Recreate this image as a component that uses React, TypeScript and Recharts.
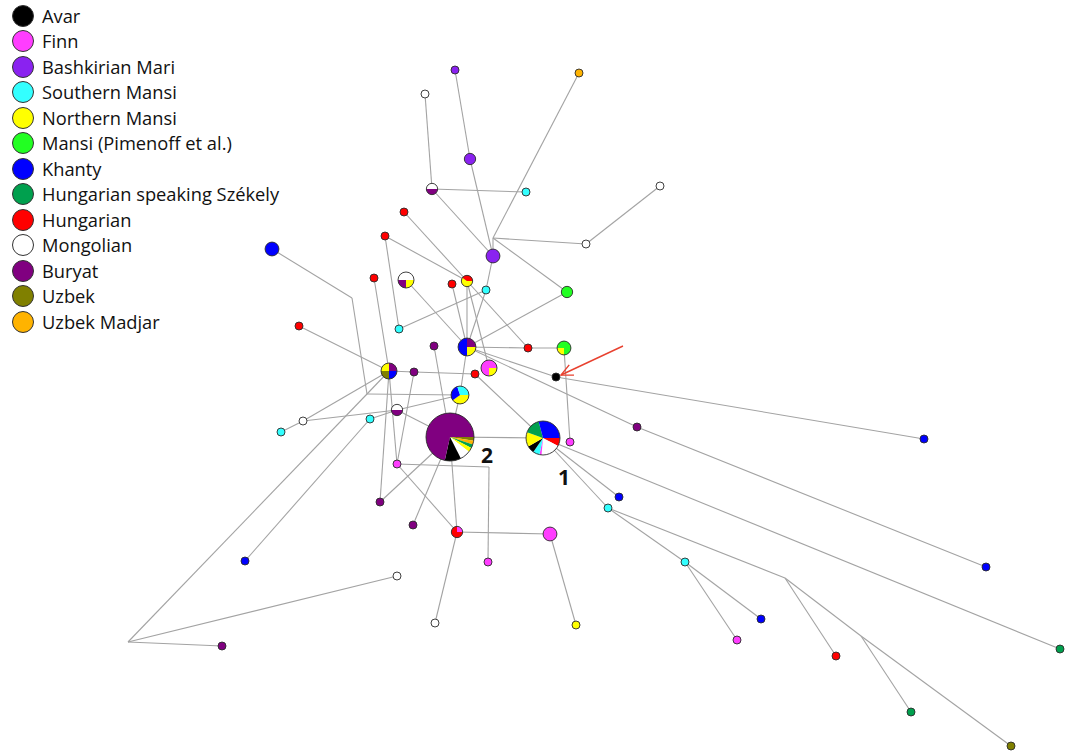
import { Scatter, ScatterChart, Sector, XAxis, YAxis } from "recharts"

const W = 1073
const H = 752

// populations, in legend order
const popCodes = ["AVA", "FIN", "BMA", "SMA", "NMA", "MAN", "KHA", "SZE", "HUN", "MON", "BUR", "UZB", "UZM"]
const popLabels = [
  "Avar",
  "Finn",
  "Bashkirian Mari",
  "Southern Mansi",
  "Northern Mansi",
  "Mansi (Pimenoff et al.)",
  "Khanty",
  "Hungarian speaking Székely",
  "Hungarian",
  "Mongolian",
  "Buryat",
  "Uzbek",
  "Uzbek Madjar",
]

const popColor: Record<string, string> = {
  AVA: "#000000",
  FIN: "#ff3dff",
  BMA: "#8a22f0",
  SMA: "#33ffff",
  NMA: "#ffff00",
  MAN: "#22ff22",
  KHA: "#0000ff",
  SZE: "#00a04e",
  HUN: "#ff0000",
  MON: "#ffffff",
  BUR: "#800080",
  UZB: "#808000",
  UZM: "#ffb300",
}

type Hap = { id: string; x: number; y: number; n: number; mix: [string, number][]; tag?: string }

const haplotypes: Hap[] = [
  { id: "A", x: 455, y: 70, n: 1, mix: [["BMA", 1]] },
  { id: "B", x: 579, y: 73, n: 1, mix: [["UZM", 1]] },
  { id: "C", x: 425, y: 94, n: 1, mix: [["MON", 1]] },
  { id: "D", x: 470, y: 159, n: 2, mix: [["BMA", 1]] },
  { id: "E", x: 432, y: 189, n: 2, mix: [["BUR", 1], ["MON", 1]] },
  { id: "F", x: 526, y: 192, n: 1, mix: [["SMA", 1]] },
  { id: "G", x: 660, y: 186, n: 1, mix: [["MON", 1]] },
  { id: "H", x: 404, y: 212, n: 1, mix: [["HUN", 1]] },
  { id: "I", x: 385, y: 236, n: 1, mix: [["HUN", 1]] },
  { id: "J", x: 493, y: 256, n: 3, mix: [["BMA", 1]] },
  { id: "K", x: 586, y: 244, n: 1, mix: [["MON", 1]] },
  { id: "L", x: 272, y: 249, n: 3, mix: [["KHA", 1]] },
  { id: "M", x: 406, y: 280, n: 4, mix: [["NMA", 1], ["BUR", 1], ["MON", 2]] },
  { id: "N", x: 374, y: 278, n: 1, mix: [["HUN", 1]] },
  { id: "O", x: 467, y: 281, n: 2, mix: [["NMA", 3], ["HUN", 2]] },
  { id: "P", x: 452, y: 284, n: 1, mix: [["HUN", 1]] },
  { id: "Q", x: 486, y: 290, n: 1, mix: [["SMA", 1]] },
  { id: "R", x: 567, y: 292, n: 2, mix: [["MAN", 1]] },
  { id: "S", x: 399, y: 329, n: 1, mix: [["SMA", 1]] },
  { id: "T", x: 299, y: 326, n: 1, mix: [["HUN", 1]] },
  { id: "U", x: 434, y: 346, n: 1, mix: [["BUR", 1]] },
  { id: "V", x: 467, y: 347, n: 5, mix: [["NMA", 1], ["KHA", 2], ["BUR", 1]] },
  { id: "W", x: 528, y: 348, n: 1, mix: [["HUN", 1]] },
  { id: "X", x: 564, y: 348, n: 3, mix: [["MAN", 1], ["NMA", 1], ["MAN", 2]] },
  { id: "Y", x: 489, y: 368, n: 4, mix: [["NMA", 1], ["FIN", 3]] },
  { id: "Z", x: 475, y: 374, n: 1, mix: [["HUN", 1]] },
  { id: "AA", x: 556, y: 377, n: 1, mix: [["AVA", 1]] },
  { id: "AB", x: 389, y: 371, n: 4, mix: [["KHA", 1], ["UZB", 1], ["NMA", 1], ["BUR", 1]] },
  { id: "AC", x: 414, y: 372, n: 1, mix: [["BUR", 1]] },
  { id: "AD", x: 460, y: 395, n: 5, mix: [["NMA", 2], ["KHA", 1.5], ["SMA", 1.5]] },
  { id: "AE", x: 397, y: 410, n: 2, mix: [["BUR", 1], ["MON", 1]] },
  { id: "AF", x: 303, y: 421, n: 1, mix: [["MON", 1]] },
  { id: "AG", x: 281, y: 432, n: 1, mix: [["SMA", 1]] },
  { id: "AH", x: 370, y: 419, n: 1, mix: [["SMA", 1]] },
  {
    id: "AI", x: 450, y: 437, n: 36, tag: "2",
    mix: [["UZB", 2.5], ["UZM", 2.5], ["SZE", 2.5], ["NMA", 3], ["MON", 7], ["AVA", 11], ["BUR", 71.5]],
  },
  {
    id: "AI1", x: 543, y: 438, n: 18, tag: "1",
    mix: [["HUN", 28], ["MON", 67], ["FIN", 7], ["SMA", 23], ["AVA", 25], ["NMA", 50], ["SZE", 55], ["KHA", 105]],
  },
  { id: "AJ", x: 570, y: 442, n: 1, mix: [["FIN", 1]] },
  { id: "AK", x: 637, y: 427, n: 1, mix: [["BUR", 1]] },
  { id: "AL", x: 924, y: 439, n: 1, mix: [["KHA", 1]] },
  { id: "AM", x: 397, y: 464, n: 1, mix: [["FIN", 1]] },
  { id: "AN", x: 380, y: 502, n: 1, mix: [["BUR", 1]] },
  { id: "AO", x: 413, y: 525, n: 1, mix: [["BUR", 1]] },
  { id: "AP", x: 457, y: 532, n: 2, mix: [["HUN", 3], ["FIN", 1]] },
  { id: "AQ", x: 488, y: 562, n: 1, mix: [["FIN", 1]] },
  { id: "AR", x: 550, y: 534, n: 3, mix: [["FIN", 1]] },
  { id: "AS", x: 435, y: 623, n: 1, mix: [["MON", 1]] },
  { id: "AT", x: 576, y: 625, n: 1, mix: [["NMA", 1]] },
  { id: "AU", x: 397, y: 576, n: 1, mix: [["MON", 1]] },
  { id: "AV", x: 222, y: 646, n: 1, mix: [["BUR", 1]] },
  { id: "AW", x: 245, y: 561, n: 1, mix: [["KHA", 1]] },
  { id: "AY", x: 619, y: 497, n: 1, mix: [["KHA", 1]] },
  { id: "AZ", x: 608, y: 508, n: 1, mix: [["SMA", 1]] },
  { id: "BA", x: 685, y: 562, n: 1, mix: [["SMA", 1]] },
  { id: "BB", x: 761, y: 619, n: 1, mix: [["KHA", 1]] },
  { id: "BC", x: 737, y: 640, n: 1, mix: [["FIN", 1]] },
  { id: "BE", x: 836, y: 656, n: 1, mix: [["HUN", 1]] },
  { id: "BG", x: 911, y: 712, n: 1, mix: [["SZE", 1]] },
  { id: "BH", x: 1011, y: 746, n: 1, mix: [["UZB", 1]] },
  { id: "BI", x: 1060, y: 649, n: 1, mix: [["SZE", 1]] },
  { id: "BJ", x: 986, y: 567, n: 1, mix: [["KHA", 1]] },
]

// median vectors (unsampled nodes)
const medianVectors = [
  { id: "JX", x: 493, y: 238 },
  { id: "L1", x: 352, y: 298 },
  { id: "JY", x: 367, y: 394 },
  { id: "AX", x: 128, y: 642 },
  { id: "AMc", x: 489, y: 467 },
  { id: "BD", x: 785, y: 578 },
  { id: "BF", x: 861, y: 636 },
]

const links: [string, string][] = [
  ["A", "D"], ["D", "J"], ["JX", "J"], ["JX", "B"], ["JX", "K"], ["K", "G"], ["JX", "R"],
  ["C", "E"], ["E", "F"], ["E", "J"], ["H", "O"], ["I", "O"], ["I", "S"], ["S", "Q"],
  ["J", "Q"], ["Q", "V"], ["O", "V"], ["O", "Y"], ["O", "W"], ["P", "V"], ["M", "V"], ["R", "V"],
  ["N", "AB"], ["T", "AB"], ["L", "L1"], ["L1", "JY"], ["JY", "AD"], ["JY", "AX"], ["JY", "AB"],
  ["AX", "AU"], ["AX", "AV"], ["AW", "AH"], ["AH", "AE"], ["AG", "AF"], ["AF", "AE"], ["AF", "AB"],
  ["AE", "AD"], ["AE", "AI"], ["AD", "V"], ["AD", "AI"], ["AB", "AC"], ["AC", "Z"], ["AB", "AM"],
  ["AC", "AM"], ["AB", "AN"], ["AN", "AI"], ["AO", "AI"], ["U", "AI"], ["AI", "AP"], ["AM", "AP"],
  ["AM", "AMc"], ["AMc", "AQ"], ["AP", "AR"], ["AR", "AT"], ["AP", "AS"], ["AI", "AI1"], ["Z", "AI1"],
  ["V", "W"], ["W", "X"], ["X", "AJ"], ["V", "AA"], ["AA", "AL"], ["V", "AK"], ["AK", "BJ"],
  ["AI1", "AY"], ["AI1", "AZ"], ["AI1", "BI"], ["AZ", "BA"], ["BA", "BB"], ["BA", "BC"],
  ["AZ", "BD"], ["BD", "BE"], ["BD", "BF"], ["BF", "BG"], ["BF", "BH"],
]

// red arrow pointing at the Avar haplotype
const arrow = [
  { x: 623, y: 346 },
  { x: 561, y: 375, tip: true },
]

const pointById: Record<string, { x: number; y: number }> = {}
haplotypes.forEach((h) => (pointById[h.id] = { x: h.x, y: h.y }))
medianVectors.forEach((m) => (pointById[m.id] = { x: m.x, y: m.y }))

const tagOffset: Record<string, [number, number]> = { "2": [37, 18], "1": [21, 39] }

const radius = (n: number) => 4 * Math.sqrt(n)

function Nothing() {
  return <g />
}

function HapShape(props: any) {
  const { cx, cy, payload } = props
  const h = payload as Hap
  const r = radius(h.n)
  const outline = <circle cx={cx} cy={cy} r={r} fill="none" stroke="#2b2b2b" strokeWidth={0.9} />
  let body
  if (h.mix.length === 1) {
    body = <circle cx={cx} cy={cy} r={r} fill={popColor[h.mix[0][0]]} />
  } else {
    const total = h.mix.reduce((s, m) => s + m[1], 0)
    let a = 0
    body = h.mix.map(([code, w], i) => {
      const start = a
      a += (w / total) * 360
      return (
        <Sector
          key={i}
          cx={cx}
          cy={cy}
          innerRadius={0}
          outerRadius={r}
          startAngle={-start}
          endAngle={-a}
          fill={popColor[code]}
          stroke="none"
        />
      )
    })
  }
  return (
    <g>
      {body}
      {outline}
      {h.tag && (
        <text
          x={cx + tagOffset[h.tag][0]}
          y={cy + tagOffset[h.tag][1]}
          textAnchor="middle"
          dominantBaseline="central"
          fontFamily="'Open Sans', sans-serif"
          fontWeight={700}
          fontSize={21}
          fill="#111"
        >
          {h.tag}
        </text>
      )}
    </g>
  )
}

function ArrowTip(props: any) {
  const { cx, cy, payload } = props
  if (!payload.tip) return <g />
  const ang = Math.atan2(arrow[1].y - arrow[0].y, arrow[1].x - arrow[0].x)
  const len = 13
  const spread = 0.45
  const p1 = [cx - len * Math.cos(ang - spread), cy - len * Math.sin(ang - spread)]
  const p2 = [cx - len * Math.cos(ang + spread), cy - len * Math.sin(ang + spread)]
  return (
    <polyline
      points={`${p1[0]},${p1[1]} ${cx},${cy} ${p2[0]},${p2[1]}`}
      fill="none"
      stroke="#e8412f"
      strokeWidth={1.4}
    />
  )
}

function Legend() {
  return (
    <div
      style={{
        position: "absolute",
        left: 12,
        top: 3,
        fontFamily: "'Open Sans', sans-serif",
        fontSize: 18.3,
        color: "#111",
      }}
    >
      {popLabels.map((label, i) => (
        <div key={label} style={{ height: 25.5, display: "flex", alignItems: "center" }}>
          <span
            style={{
              width: 20,
              height: 20,
              flexShrink: 0,
              borderRadius: "50%",
              background: popColor[popCodes[i]],
              border: "1px solid #333",
              display: "inline-block",
            }}
          />
          <span style={{ marginLeft: 8, lineHeight: "20px", whiteSpace: "nowrap" }}>{label}</span>
        </div>
      ))}
    </div>
  )
}

export default function App() {
  return (
    <div style={{ position: "absolute", left: 0, top: 0, width: W, height: H, background: "#fff" }}>
      <ScatterChart width={W} height={H} margin={{ top: 0, right: 0, bottom: 0, left: 0 }}>
        <XAxis type="number" dataKey="x" domain={[0, W]} allowDataOverflow hide />
        <YAxis type="number" dataKey="y" domain={[0, H]} allowDataOverflow reversed hide />
        {links.map(([a, b], i) => (
          <Scatter
            key={`${a}-${b}-${i}`}
            data={[pointById[a], pointById[b]]}
            line={{ stroke: "#a3a3a3", strokeWidth: 1.1 }}
            shape={Nothing}
            isAnimationActive={false}
          />
        ))}
        <Scatter
          data={arrow}
          line={{ stroke: "#e8412f", strokeWidth: 1.4 }}
          shape={ArrowTip}
          isAnimationActive={false}
        />
        <Scatter data={haplotypes} shape={HapShape} isAnimationActive={false} />
      </ScatterChart>
      <Legend />
    </div>
  )
}
